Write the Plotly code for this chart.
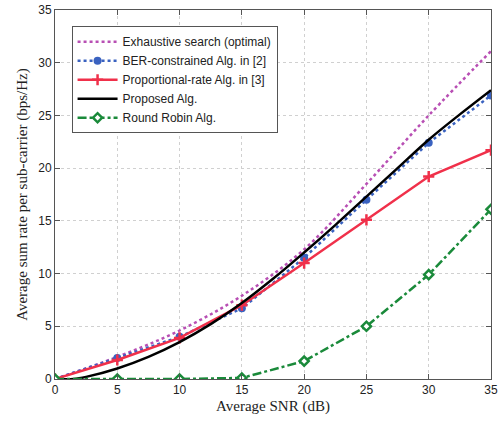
import plotly.graph_objects as go

snr = [0, 5, 10, 15, 20, 25, 30, 35]
exhaustive = [0, 2.1, 4.6, 7.9, 12.3, 18.5, 25.0, 31.1]
ber_constrained = [0, 2.0, 4.0, 6.7, 11.5, 17.0, 22.4, 26.9]
prop_rate = [0, 1.8, 3.9, 7.0, 11.0, 15.1, 19.2, 21.7]
proposed_snr = [0, 1.5, 2.5, 5, 7.5, 10, 12.5, 15, 17.5, 20, 22.5, 25, 27.5, 30, 32.5, 35]
proposed = [0, 0.0, 0.2, 1.0, 2.1, 3.5, 5.2, 7.2, 9.5, 12.0, 14.6, 17.3, 20.0, 22.7, 25.1, 27.4]
round_robin = [0, 0, 0, 0.1, 1.7, 5.0, 9.9, 16.1]

names = ["Exhaustive search (optimal)", "BER-constrained Alg. in [2]",
         "Proportional-rate Alg. in [3]", "Proposed Alg.", "Round Robin Alg."]

fig = go.Figure()
fig.add_trace(go.Scatter(x=snr, y=exhaustive, name=names[0], mode="lines",
                         line=dict(color="#b84fb4", width=2.5, dash="dot", shape="spline")))
fig.add_trace(go.Scatter(x=snr, y=ber_constrained, name=names[1], mode="lines+markers",
                         line=dict(color="#3a62c0", width=2.5, dash="dot"),
                         marker=dict(symbol="circle", size=8, color="#3a62c0")))
fig.add_trace(go.Scatter(x=snr, y=prop_rate, name=names[2], mode="lines+markers",
                         line=dict(color="#f0304a", width=2.5),
                         marker=dict(symbol="cross-thin", size=8, color="#f0304a",
                                     line=dict(color="#f0304a", width=2.5))))
fig.add_trace(go.Scatter(x=proposed_snr, y=proposed, name=names[3], mode="lines",
                         line=dict(color="black", width=2.5, shape="spline")))
fig.add_trace(go.Scatter(x=snr, y=round_robin, name=names[4], mode="lines+markers",
                         line=dict(color="#1a8a3a", width=2.5, dash="dashdot"),
                         marker=dict(symbol="diamond", size=7, color="white",
                                     line=dict(color="#1a8a3a", width=2.5))))

axis_common = dict(showline=True, linecolor="#555", linewidth=1, mirror="ticks",
                   ticks="inside", ticklen=5, tickcolor="#555",
                   showgrid=True, gridcolor="#d0d0d0", griddash="dot", gridwidth=1,
                   zeroline=False, automargin=False,
                   tickfont=dict(family="Liberation Sans, Arial", size=12, color="#222"))

fig.update_xaxes(range=[0, 35], dtick=5, **axis_common,
                 title=dict(text="Average SNR (dB)", standoff=4,
                            font=dict(family="Liberation Serif, Times New Roman", size=15, color="#222")))
fig.update_yaxes(range=[0, 35], dtick=5, **axis_common,
                 title=dict(text="Average sum rate per sub-carrier (bps/Hz)", standoff=6,
                            font=dict(family="Liberation Serif, Times New Roman", size=15, color="#222")))

fig.update_layout(
    width=503, height=421,
    margin=dict(l=55, r=12, t=10, b=42),
    plot_bgcolor="white", paper_bgcolor="white",
    legend=dict(x=0.038, y=0.956, xanchor="left", yanchor="top",
                bgcolor="white", bordercolor="#555", borderwidth=1,
                font=dict(family="Liberation Sans, Arial", size=12, color="#222"),
                tracegroupgap=0, itemwidth=40),
    showlegend=True,
)

fig.write_html("out.html", config={"displayModeBar": False},
               post_script="document.body.style.margin='0';document.body.style.overflow='hidden';")
